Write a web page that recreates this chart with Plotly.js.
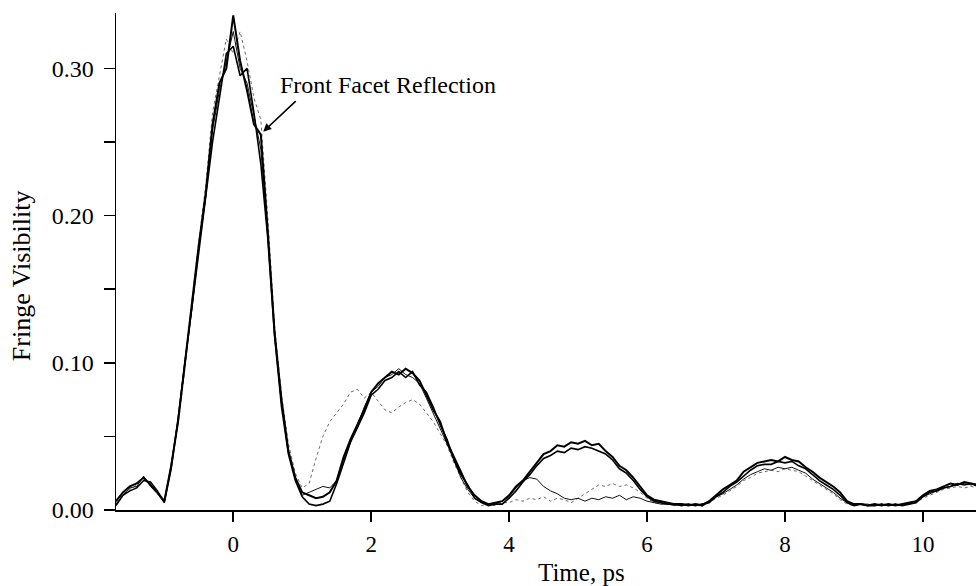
<!DOCTYPE html>
<html>
<head>
<meta charset="utf-8">
<script src="https://cdn.plot.ly/plotly-3.0.1.min.js"></script>
<style>html,body{margin:0;padding:0;background:#fff;}#chart{width:976px;height:586px;}</style>
</head>
<body>
<div id="chart"></div>
<script>
// Time axis, ps
const timePs = [
 -1.7,-1.6,-1.5,-1.4,-1.3,-1.2,-1.1,-1.0,-0.9,-0.8,-0.7,-0.6,-0.5,-0.4,-0.3,-0.2,-0.1,
 0.0,0.1,0.2,0.3,0.4,0.5,0.6,0.7,0.8,0.9,1.0,1.1,1.2,1.3,1.4,1.5,1.6,1.7,1.8,1.9,
 2.0,2.1,2.2,2.3,2.4,2.5,2.6,2.7,2.8,2.9,3.0,3.1,3.2,3.3,3.4,3.5,3.6,3.7,3.8,3.9,
 4.0,4.1,4.2,4.3,4.4,4.5,4.6,4.7,4.8,4.9,5.0,5.1,5.2,5.3,5.4,5.5,5.6,5.7,5.8,5.9,
 6.0,6.1,6.2,6.3,6.4,6.5,6.6,6.7,6.8,6.9,7.0,7.1,7.2,7.3,7.4,7.5,7.6,7.7,7.8,7.9,
 8.0,8.1,8.2,8.3,8.4,8.5,8.6,8.7,8.8,8.9,9.0,9.1,9.2,9.3,9.4,9.5,9.6,9.7,9.8,9.9,
 10.0,10.1,10.2,10.3,10.4,10.5,10.6,10.7,10.8
];

// Fringe visibility, trace A (thick)
const visA = [
 0.006,0.012,0.016,0.018,0.022,0.017,0.012,0.006,0.030,0.060,0.098,0.140,0.180,0.215,0.262,0.290,0.300,
 0.336,0.305,0.285,0.262,0.255,0.190,0.120,0.075,0.040,0.022,0.012,0.010,0.008,0.009,0.012,0.020,0.036,0.048,0.058,0.068,
 0.080,0.086,0.090,0.094,0.092,0.096,0.093,0.088,0.078,0.068,0.060,0.046,0.036,0.026,0.016,0.010,0.006,0.004,0.005,0.006,
 0.010,0.016,0.020,0.026,0.032,0.038,0.040,0.044,0.043,0.046,0.045,0.047,0.044,0.045,0.040,0.036,0.030,0.027,0.022,0.016,
 0.010,0.007,0.006,0.005,0.004,0.004,0.003,0.004,0.003,0.006,0.010,0.014,0.017,0.020,0.026,0.029,0.032,0.033,0.034,0.033,
 0.036,0.034,0.033,0.029,0.026,0.022,0.019,0.016,0.012,0.006,0.004,0.004,0.003,0.004,0.003,0.004,0.003,0.004,0.005,0.006,
 0.010,0.013,0.014,0.016,0.018,0.017,0.019,0.018,0.017
];

// trace B (thick)
const visB = [
 0.003,0.010,0.013,0.015,0.020,0.019,0.013,0.005,0.028,0.062,0.100,0.138,0.175,0.210,0.250,0.280,0.310,
 0.315,0.295,0.300,0.270,0.235,0.185,0.118,0.070,0.038,0.020,0.009,0.004,0.003,0.004,0.006,0.018,0.032,0.046,0.056,0.066,
 0.078,0.082,0.088,0.090,0.094,0.090,0.094,0.085,0.080,0.070,0.058,0.048,0.034,0.024,0.017,0.008,0.005,0.003,0.004,0.004,
 0.008,0.013,0.019,0.024,0.030,0.035,0.037,0.040,0.039,0.042,0.041,0.043,0.042,0.040,0.038,0.034,0.028,0.025,0.020,0.014,
 0.009,0.006,0.005,0.004,0.004,0.003,0.004,0.003,0.004,0.005,0.009,0.012,0.016,0.019,0.023,0.027,0.030,0.031,0.031,0.033,
 0.032,0.033,0.030,0.028,0.024,0.020,0.017,0.014,0.010,0.005,0.003,0.004,0.003,0.003,0.004,0.003,0.004,0.003,0.004,0.005,
 0.009,0.012,0.013,0.015,0.016,0.018,0.017,0.018,0.016
];

// trace C (thin, grey dotted) - early rise after main peak
const visC = [
 0.005,0.011,0.014,0.017,0.021,0.018,0.012,0.006,0.029,0.058,0.096,0.142,0.182,0.220,0.270,0.295,0.320,
 0.310,0.325,0.305,0.280,0.265,0.200,0.125,0.078,0.045,0.025,0.015,0.018,0.035,0.050,0.060,0.066,0.072,0.080,0.082,0.076,
 0.080,0.074,0.068,0.066,0.070,0.073,0.075,0.072,0.066,0.060,0.052,0.044,0.032,0.022,0.012,0.006,0.003,0.004,0.003,0.005,
 0.005,0.007,0.006,0.008,0.007,0.009,0.006,0.008,0.007,0.005,0.008,0.011,0.014,0.017,0.016,0.018,0.016,0.017,0.015,0.012,
 0.008,0.005,0.004,0.005,0.003,0.004,0.003,0.004,0.004,0.005,0.008,0.010,0.013,0.016,0.020,0.022,0.025,0.026,0.027,0.026,
 0.028,0.027,0.026,0.023,0.020,0.017,0.014,0.011,0.007,0.004,0.003,0.004,0.003,0.004,0.003,0.004,0.003,0.004,0.004,0.005,
 0.008,0.010,0.012,0.014,0.015,0.016,0.015,0.016,0.015
];

// trace D (thin, black)
const visD = [
 0.004,0.010,0.015,0.016,0.023,0.016,0.011,0.005,0.031,0.061,0.102,0.136,0.178,0.212,0.258,0.285,0.305,
 0.325,0.300,0.290,0.268,0.245,0.188,0.122,0.072,0.040,0.021,0.010,0.012,0.014,0.016,0.015,0.020,0.034,0.046,0.058,0.070,
 0.080,0.084,0.090,0.092,0.096,0.092,0.090,0.086,0.076,0.066,0.056,0.045,0.034,0.022,0.014,0.008,0.005,0.004,0.004,0.006,
 0.009,0.015,0.020,0.022,0.021,0.016,0.013,0.011,0.008,0.007,0.008,0.006,0.008,0.007,0.009,0.008,0.010,0.007,0.009,0.008,
 0.006,0.005,0.004,0.004,0.003,0.004,0.004,0.003,0.004,0.006,0.009,0.011,0.014,0.017,0.021,0.024,0.026,0.028,0.027,0.029,
 0.028,0.029,0.027,0.025,0.021,0.018,0.015,0.012,0.008,0.005,0.003,0.004,0.004,0.003,0.004,0.003,0.004,0.003,0.005,0.006,
 0.009,0.011,0.013,0.015,0.016,0.017,0.018,0.017,0.018
];

const yTickVals = [0, 0.10, 0.20, 0.30];
const yTickText = ["0.00", "0.10", "0.20", "0.30"];
const xTickVals = [0, 2, 4, 6, 8, 10];
const xTickText = ["0", "2", "4", "6", "8", "10"];

const FONT = "Liberation Serif, Times New Roman, serif";

const traces = [
  {x: timePs, y: visC, mode: "lines", line: {color: "#6a6a6a", width: 1, dash: "dot"}, showlegend: false},
  {x: timePs, y: visD, mode: "lines", line: {color: "#111", width: 1}, showlegend: false},
  {x: timePs, y: visB, mode: "lines", line: {color: "#000", width: 1.6}, showlegend: false},
  {x: timePs, y: visA, mode: "lines", line: {color: "#000", width: 2}, showlegend: false}
];

const layout = {
  width: 976, height: 586,
  margin: {l: 116, r: 0, t: 13, b: 76},
  paper_bgcolor: "#fff", plot_bgcolor: "#fff",
  font: {family: FONT, size: 23, color: "#000"},
  showlegend: false,
  xaxis: {
    range: [-1.70, 10.77],
    tickvals: xTickVals, ticktext: xTickText,
    ticks: "outside", ticklen: 10, tickwidth: 1.5, tickcolor: "#000",
    ticklabelstandoff: 3,
    showline: true, linecolor: "#000", linewidth: 1.5,
    showgrid: false, zeroline: false,
    tickfont: {family: FONT, size: 23, color: "#000"},
    title: {text: ""}
  },
  yaxis: {
    range: [0, 0.3376],
    tickvals: yTickVals, ticktext: yTickText,
    ticks: "outside", ticklen: 11, tickwidth: 1.5, tickcolor: "#000",
    ticklabelstandoff: 5,
    minor: {tickvals: [0.05, 0.15, 0.25], ticks: "outside", ticklen: 11, tickwidth: 1.5, tickcolor: "#000"},
    showline: true, linecolor: "#000", linewidth: 1.5,
    showgrid: false, zeroline: false,
    tickfont: {family: FONT, size: 24, color: "#000"},
    title: {text: ""}
  },
  annotations: [
    {xref: "paper", yref: "paper", x: 0.541, y: -0.125, text: "Time, ps", xanchor: "center", yanchor: "middle",
     showarrow: false, font: {family: FONT, size: 25, color: "#000"}},
    {xref: "paper", yref: "paper", x: -0.109, y: 0.471, text: "Fringe Visibility", textangle: -90,
     xanchor: "center", yanchor: "middle",
     showarrow: false, font: {family: FONT, size: 26, color: "#000"}},
    {xref: "x", yref: "y", x: 0.65, y: 0.289, text: "Front Facet Reflection", xanchor: "left", yanchor: "middle",
     showarrow: false, font: {family: FONT, size: 24, color: "#000"}},
    {xref: "x", yref: "y", x: 0.435, y: 0.257, text: "", showarrow: true, arrowhead: 2, arrowsize: 1, arrowwidth: 1.6,
     arrowcolor: "#000", ax: 34, ay: -32, standoff: 0}
  ]
};

Plotly.newPlot("chart", traces, layout, {staticPlot: true, displayModeBar: false});
</script>
</body>
</html>
